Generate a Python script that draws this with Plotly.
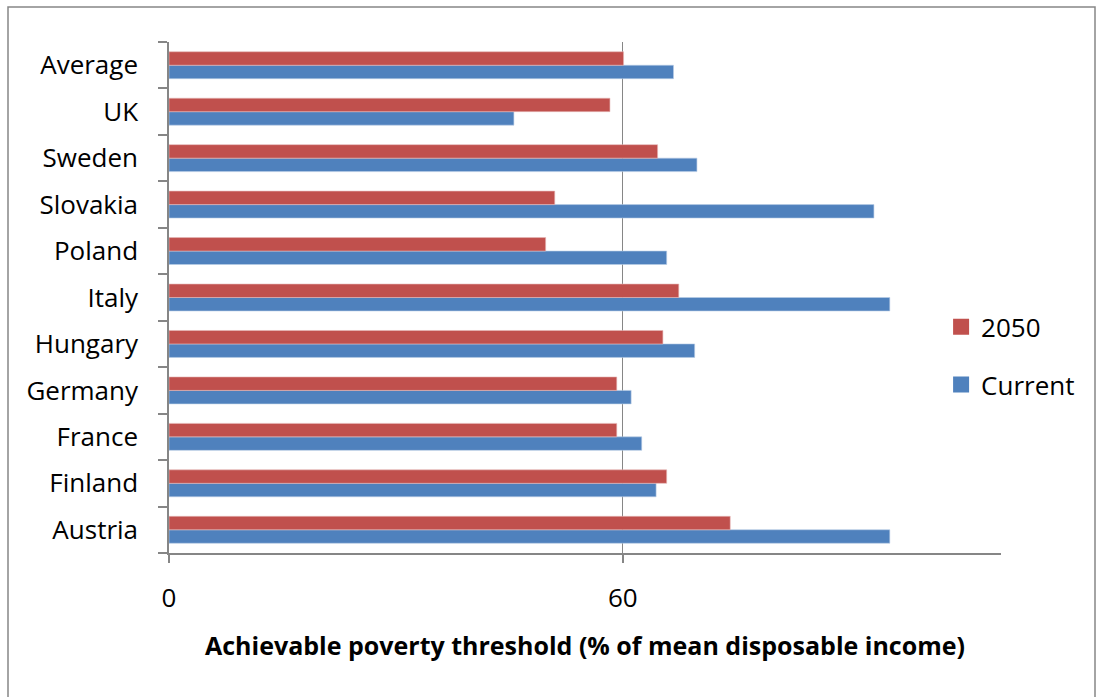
import plotly.graph_objects as go

categories = ["Austria", "Finland", "France", "Germany", "Hungary", "Italy",
              "Poland", "Slovakia", "Sweden", "UK", "Average"]
current = [95.3, 64.4, 62.5, 61.1, 69.5, 95.3, 65.8, 93.2, 69.8, 45.6, 66.7]
y2050 = [74.2, 65.8, 59.2, 59.2, 65.3, 67.4, 49.8, 51.0, 64.6, 58.3, 60.1]
x_ticks = [0, 60]

FONT = "'Open Sans', sans-serif"
GREY = "#868686"
RED = "#C0504D"
BLUE = "#4F81BD"

fig = go.Figure()
fig.add_trace(go.Bar(y=categories, x=current, orientation="h", name="Current",
                     showlegend=False,
                     marker=dict(color=BLUE, line=dict(color="#B9CDE5", width=0.6))))
fig.add_trace(go.Bar(y=categories, x=y2050, orientation="h", name="2050",
                     showlegend=False,
                     marker=dict(color=RED, line=dict(color="#E6B9B8", width=0.6))))
# legend entries
fig.add_trace(go.Scatter(x=[None], y=[None], mode="markers", name="2050",
                         legendgroup="a", legendrank=1,
                         marker=dict(symbol="square", size=20, color=RED)))
fig.add_trace(go.Scatter(x=[None], y=[None], mode="markers", name="Current",
                         legendgroup="b", legendrank=2,
                         marker=dict(symbol="square", size=20, color=BLUE)))

fig.update_layout(
    width=1096, height=697,
    margin=dict(l=169, r=95, t=42, b=144),
    paper_bgcolor="white", plot_bgcolor="white",
    barmode="group", bargap=0.42, bargroupgap=0,
    font=dict(family=FONT, color="black", size=22),
    legend=dict(x=0.928, y=0.386, xanchor="left", yanchor="middle",
                font=dict(size=26, family=FONT),
                itemwidth=30, tracegroupgap=21, bgcolor="rgba(0,0,0,0)"),
    showlegend=True,
)
fig.update_xaxes(range=[0, 110], tickvals=x_ticks, ticks="outside", ticklen=8,
                 tickcolor=GREY, tickwidth=1.5, showline=True, linecolor=GREY,
                 linewidth=1.5, showgrid=True, gridcolor=GREY, gridwidth=1.3,
                 zeroline=False, tickfont=dict(size=26, family=FONT),
                 ticklabelstandoff=13,
                 title=dict(text="<b>Achievable poverty threshold (% of mean disposable income)</b>",
                            font=dict(size=25, family=FONT), standoff=24))
fig.update_yaxes(tickson="boundaries", ticks="outside", ticklen=9, tickcolor=GREY,
                 tickwidth=1.5, showline=True, linecolor=GREY, linewidth=1.5,
                 showgrid=False, tickfont=dict(size=26, family=FONT),
                 ticklabelstandoff=24)

fig.add_shape(type="rect", xref="paper", yref="paper",
              x0=(8 - 169) / 832, x1=(1095 - 169) / 832,
              y0=(553 - 710) / 511, y1=(553 - 7) / 511,
              line=dict(color=GREY, width=1.5), fillcolor="rgba(0,0,0,0)", layer="below")

fig.write_html("out.html")
